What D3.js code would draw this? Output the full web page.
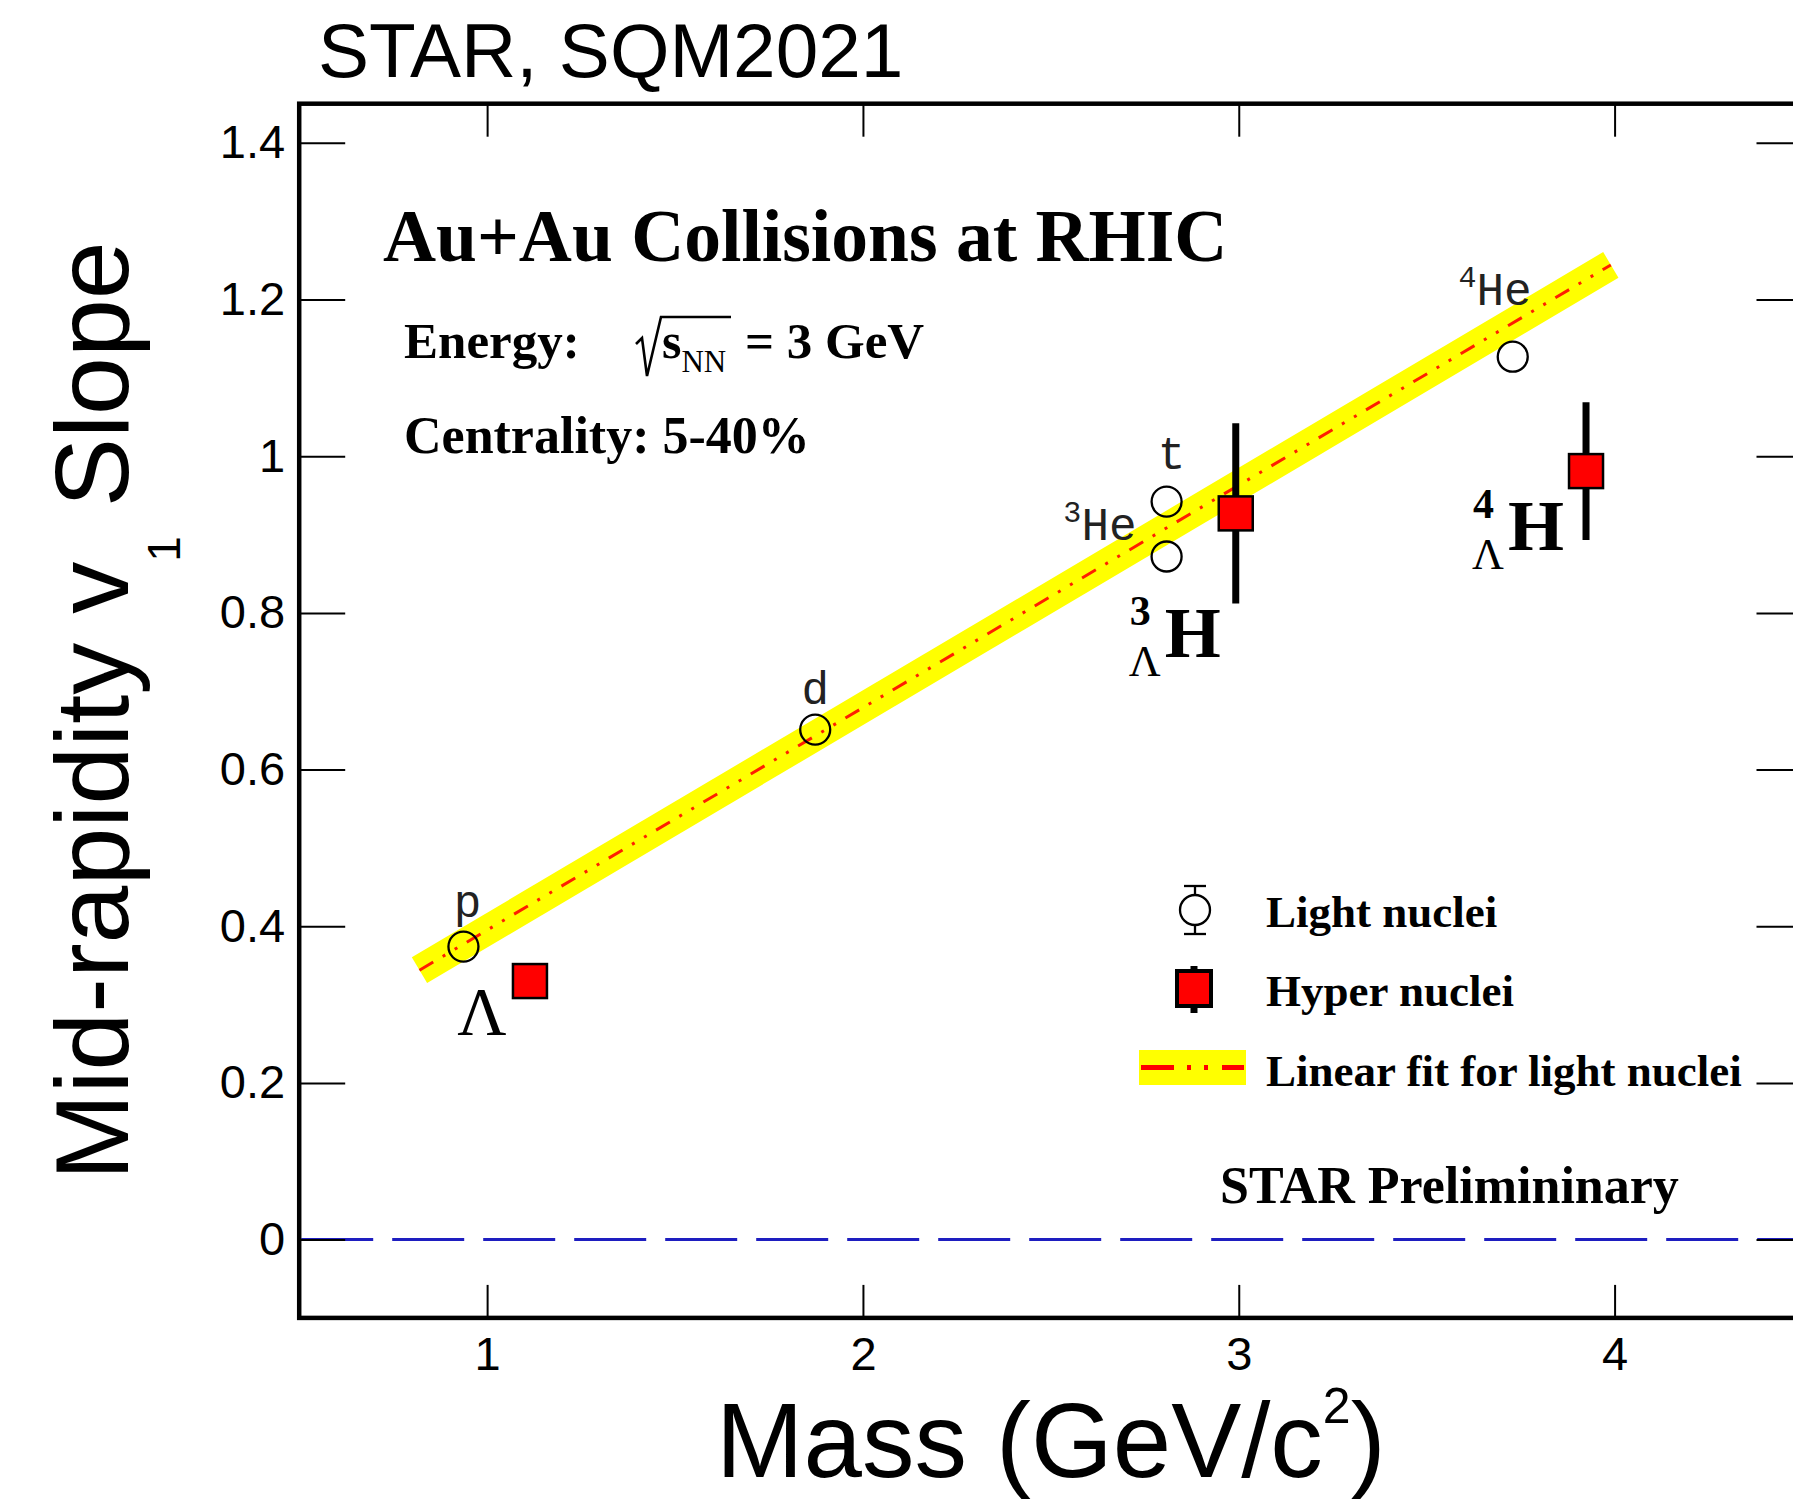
<!DOCTYPE html>
<html>
<head>
<meta charset="utf-8">
<script src="https://cdn.jsdelivr.net/npm/d3@7"></script>
<style>
  html, body { margin: 0; padding: 0; background: #ffffff; }
  svg { display: block; }
</style>
</head>
<body>
<svg id="chart" width="1793" height="1501"></svg>
<script>
// ---- data -------------------------------------------------------------
// Light nuclei: mass (GeV/c^2) and mid-rapidity v1 slope
const lightSymbol = ["p", "d", "t", "He", "He"];
const lightIsotope = ["", "", "", "3", "4"];
const lightMass = [0.937, 1.873, 2.808, 2.808, 3.729];
const lightV1 = [0.374, 0.651, 0.942, 0.872, 1.127];

// Hyper nuclei: Λ, ³ΛH, ⁴ΛH
const hyperIsotope = ["", "3", "4"];
const hyperMass = [1.114, 2.992, 3.924];
const hyperV1 = [0.330, 0.927, 0.981];
const hyperErr = [0.008, 0.115, 0.088];

// Linear fit to the light nuclei
const fitSlope = 0.284;
const fitIntercept = 0.111;
const fitMassRange = [0.82, 3.99];

// Axes
const xDomain = [0.5, 4.5];
const yDomain = [-0.1, 1.45];
const xTicks = [1, 2, 3, 4];
const xTickLabels = ["1", "2", "3", "4"];
const yTicks = [0, 0.2, 0.4, 0.6, 0.8, 1.0, 1.2, 1.4];
const yTickLabels = ["0", "0.2", "0.4", "0.6", "0.8", "1", "1.2", "1.4"];

// ---- layout -----------------------------------------------------------
const SANS = "'Liberation Sans', Arial, Helvetica, sans-serif";
const SERIF = "'Liberation Serif', 'Times New Roman', Times, serif";
const MONO = "Courier, 'Liberation Mono', 'Courier New', monospace";

const plot = { left: 299.2, right: 1802.5, top: 103.7, bottom: 1317.9 };

const svg = d3.select("#chart");
svg.append("rect").attr("width", 1793).attr("height", 1501).attr("fill", "#ffffff");

const x = d3.scaleLinear().domain(xDomain).range([plot.left, plot.right]);
const y = d3.scaleLinear().domain(yDomain).range([plot.bottom, plot.top]);

// ---- zero reference line ---------------------------------------------
svg.append("line")
  .attr("x1", x(xDomain[0])).attr("x2", x(xDomain[1]))
  .attr("y1", y(0)).attr("y2", y(0))
  .attr("stroke", "#1e1ec0").attr("stroke-width", 3)
  .attr("stroke-dasharray", "72,19").attr("stroke-dashoffset", -2);

// ---- linear fit band and line ----------------------------------------
const fitPts = fitMassRange.map(m => [m, fitIntercept + fitSlope * m]);
const fitLine = d3.line().x(d => x(d[0])).y(d => y(d[1]));
svg.append("path").attr("d", fitLine(fitPts))
  .attr("fill", "none").attr("stroke", "#ffff00")
  .attr("stroke-width", 30).attr("stroke-linecap", "butt");
svg.append("path").attr("d", fitLine(fitPts))
  .attr("fill", "none").attr("stroke", "#ff1e00")
  .attr("stroke-width", 3)
  .attr("stroke-dasharray", "16,11,3,11,3,11");

// ---- hyper nuclei: error bars + red squares --------------------------
const hyper = hyperMass.map((m, i) => ({ m, v: hyperV1[i], e: hyperErr[i], iso: hyperIsotope[i] }));
svg.append("g").selectAll("line").data(hyper).join("line")
  .attr("x1", d => x(d.m)).attr("x2", d => x(d.m))
  .attr("y1", d => y(d.v + d.e)).attr("y2", d => y(d.v - d.e))
  .attr("stroke", "#000").attr("stroke-width", 7);
const SQ = 34;
svg.append("g").selectAll("rect").data(hyper).join("rect")
  .attr("x", d => x(d.m) - SQ / 2).attr("y", d => y(d.v) - SQ / 2)
  .attr("width", SQ).attr("height", SQ)
  .attr("fill", "#ff0000").attr("stroke", "#000").attr("stroke-width", 2.5);

// ---- light nuclei: open circles --------------------------------------
const light = lightMass.map((m, i) => ({ m, v: lightV1[i], sym: lightSymbol[i], iso: lightIsotope[i] }));
svg.append("g").selectAll("circle").data(light).join("circle")
  .attr("cx", d => x(d.m)).attr("cy", d => y(d.v)).attr("r", 15)
  .attr("fill", "none").attr("stroke", "#000").attr("stroke-width", 2.3);

// ---- point labels -----------------------------------------------------
// pixel offsets of each label from its marker
const lightLabelOffset = [
  { dx: 4, dy: -30, anchor: "middle" },
  { dx: 0, dy: -26, anchor: "middle" },
  { dx: 5, dy: -33, anchor: "middle" },
  { dx: -30, dy: -16, anchor: "end" },
  { dx: 19, dy: -52, anchor: "end" }
];
light.forEach((d, i) => {
  const o = lightLabelOffset[i];
  const t = svg.append("text")
    .attr("x", x(d.m) + o.dx).attr("y", y(d.v) + o.dy)
    .attr("text-anchor", o.anchor)
    .attr("font-family", MONO).attr("font-size", 46).attr("fill", "#222");
  if (d.iso) {
    t.append("tspan").attr("font-size", 30).attr("dy", -18).text(d.iso);
    t.append("tspan").attr("dy", 18).text(d.sym);
  } else {
    t.text(d.sym);
  }
});

const hyperLabelOffset = [
  { dx: -48, dy: 53 },
  { dx: -71, dy: 144 },
  { dx: -78, dy: 79 }
];
hyper.forEach((d, i) => {
  const o = hyperLabelOffset[i];
  const g = svg.append("g").attr("transform", `translate(${x(d.m) + o.dx},${y(d.v) + o.dy})`);
  if (!d.iso) {
    g.append("text").attr("text-anchor", "middle")
      .attr("font-family", SERIF).attr("font-size", 68).attr("fill", "#000")
      .text("Λ");
  } else {
    g.append("text").attr("x", 0).attr("y", 0)
      .attr("font-family", SERIF).attr("font-weight", "bold").attr("font-size", 72)
      .text("H");
    g.append("text").attr("x", -35).attr("y", -32)
      .attr("font-family", SERIF).attr("font-weight", "bold").attr("font-size", 42)
      .text(d.iso);
    g.append("text").attr("x", -36).attr("y", 19)
      .attr("font-family", SERIF).attr("font-size", 44)
      .text("Λ");
  }
});

// ---- axes (ticks point inward) ---------------------------------------
function styleAxis(g) {
  g.select(".domain").remove();
  g.selectAll(".tick line").attr("stroke", "#000").attr("stroke-width", 2);
  g.selectAll(".tick text").attr("fill", "#000").attr("font-family", SANS).attr("font-size", 47);
}
svg.append("g").attr("transform", `translate(${plot.left},0)`)
  .call(d3.axisLeft(y).tickValues(yTicks).tickSize(-46).tickPadding(14)
    .tickFormat((d, i) => yTickLabels[i]))
  .call(styleAxis);
svg.append("g").attr("transform", `translate(${plot.right},0)`)
  .call(d3.axisRight(y).tickValues(yTicks).tickSize(-46).tickFormat(""))
  .call(styleAxis);
svg.append("g").attr("transform", `translate(0,${plot.bottom})`)
  .call(d3.axisBottom(x).tickValues(xTicks).tickSize(-33).tickPadding(19)
    .tickFormat((d, i) => xTickLabels[i]))
  .call(styleAxis);
svg.append("g").attr("transform", `translate(0,${plot.top})`)
  .call(d3.axisTop(x).tickValues(xTicks).tickSize(-33).tickFormat(""))
  .call(styleAxis);

// frame
svg.append("rect")
  .attr("x", plot.left).attr("y", plot.top)
  .attr("width", plot.right - plot.left).attr("height", plot.bottom - plot.top)
  .attr("fill", "none").attr("stroke", "#000").attr("stroke-width", 4.5);

// ---- axis titles ------------------------------------------------------
svg.append("text")
  .attr("x", (plot.left + plot.right) / 2).attr("y", 1477)
  .attr("text-anchor", "middle")
  .attr("font-family", SANS).attr("font-size", 105).attr("fill", "#000")
  .call(t => {
    t.append("tspan").text("Mass (GeV/c");
    t.append("tspan").attr("font-size", 50).attr("dy", -54).text("2");
    t.append("tspan").attr("dy", 54).text(")");
  });

svg.append("text")
  .attr("transform", `translate(128,${(plot.top + plot.bottom) / 2}) rotate(-90)`)
  .attr("text-anchor", "middle")
  .attr("font-family", SANS).attr("font-size", 104).attr("fill", "#000")
  .call(t => {
    t.append("tspan").text("Mid-rapidity v");
    t.append("tspan").attr("font-size", 46).attr("dy", 52).text("1");
    t.append("tspan").attr("dy", -52).text(" Slope");
  });

// header
svg.append("text").attr("x", 318).attr("y", 77)
  .attr("font-family", SANS).attr("font-size", 76.5).attr("fill", "#000")
  .text("STAR, SQM2021");

// ---- in-plot annotations ---------------------------------------------
svg.append("text").attr("x", 383).attr("y", 261)
  .attr("font-family", SERIF).attr("font-weight", "bold").attr("font-size", 73.5)
  .text("Au+Au Collisions at RHIC");

svg.append("text").attr("x", 404).attr("y", 358)
  .attr("font-family", SERIF).attr("font-weight", "bold").attr("font-size", 51)
  .text("Energy:");
// √s_NN = 3 GeV
svg.append("path")
  .attr("d", "M636,344 L642,338 L647,376 L661,317 L731,317")
  .attr("fill", "none").attr("stroke", "#000").attr("stroke-width", 2.6)
  .attr("stroke-linejoin", "miter");
svg.append("text").attr("x", 662).attr("y", 358)
  .attr("font-family", SERIF).attr("font-weight", "bold").attr("font-size", 50)
  .call(t => {
    t.append("tspan").text("s");
    t.append("tspan").attr("font-weight", "normal").attr("font-size", 31).attr("dy", 14).text("NN");
  });
svg.append("text").attr("x", 745).attr("y", 358)
  .attr("font-family", SERIF).attr("font-weight", "bold").attr("font-size", 51)
  .text("= 3 GeV");
svg.append("text").attr("x", 404).attr("y", 453)
  .attr("font-family", SERIF).attr("font-weight", "bold").attr("font-size", 52)
  .text("Centrality: 5-40%");

svg.append("text").attr("x", 1220).attr("y", 1203)
  .attr("font-family", SERIF).attr("font-weight", "bold").attr("font-size", 52)
  .text("STAR Prelimininary");

// ---- legend -----------------------------------------------------------
const leg = svg.append("g");
const legX = 1195;
// light nuclei: open circle with error bar
leg.append("line").attr("x1", legX).attr("x2", legX).attr("y1", 886).attr("y2", 934)
  .attr("stroke", "#000").attr("stroke-width", 2.3);
leg.append("line").attr("x1", legX - 11).attr("x2", legX + 11).attr("y1", 886).attr("y2", 886)
  .attr("stroke", "#000").attr("stroke-width", 2.3);
leg.append("line").attr("x1", legX - 11).attr("x2", legX + 11).attr("y1", 934).attr("y2", 934)
  .attr("stroke", "#000").attr("stroke-width", 2.3);
leg.append("circle").attr("cx", legX).attr("cy", 910).attr("r", 15)
  .attr("fill", "#fff").attr("stroke", "#000").attr("stroke-width", 2.3);
// hyper nuclei: red square with error stubs
leg.append("line").attr("x1", legX - 1).attr("x2", legX - 1).attr("y1", 966).attr("y2", 1013)
  .attr("stroke", "#000").attr("stroke-width", 7);
leg.append("rect").attr("x", legX - 18).attr("y", 971).attr("width", 34).attr("height", 35)
  .attr("fill", "#ff0000").attr("stroke", "#000").attr("stroke-width", 4);
// linear fit swatch
leg.append("rect").attr("x", 1139).attr("y", 1050).attr("width", 107).attr("height", 35)
  .attr("fill", "#ffff00");
leg.append("line").attr("x1", 1141).attr("x2", 1244).attr("y1", 1067.5).attr("y2", 1067.5)
  .attr("stroke", "#ff0000").attr("stroke-width", 5)
  .attr("stroke-dasharray", "33,13,4,13,4,14");

const legendText = ["Light nuclei", "Hyper nuclei", "Linear fit for light nuclei"];
const legendBaseline = [927, 1006, 1086];
leg.selectAll("text.lg").data(legendText).join("text")
  .attr("class", "lg")
  .attr("x", 1266).attr("y", (d, i) => legendBaseline[i])
  .attr("font-family", SERIF).attr("font-weight", "bold").attr("font-size", 45)
  .text(d => d);
</script>
</body>
</html>
